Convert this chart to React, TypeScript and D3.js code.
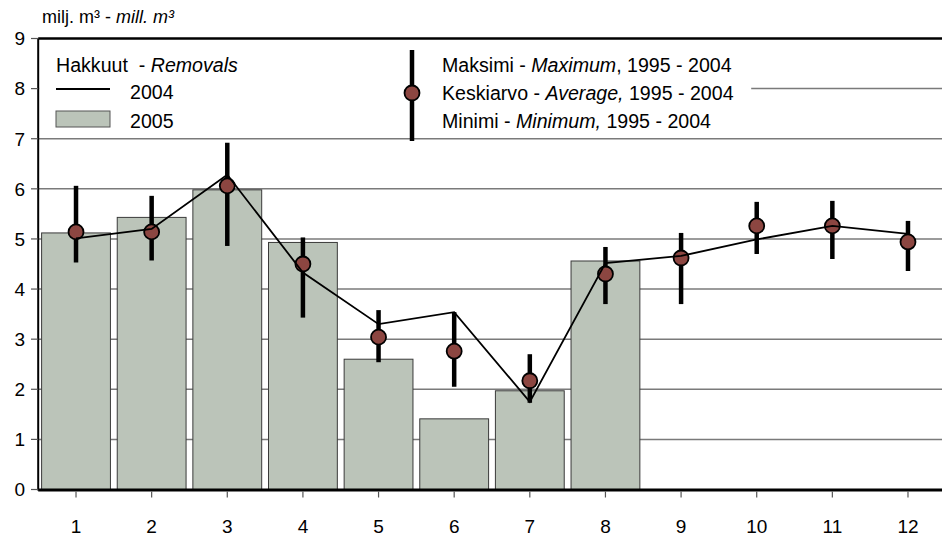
import React from "react";
import * as d3 from "d3";

const categories = ["1", "2", "3", "4", "5", "6", "7", "8", "9", "10", "11", "12"];
const removals2004 = [5.01, 5.2, 6.28, 4.33, 3.3, 3.54, 1.75, 4.52, 4.66, 4.99, 5.26, 5.1];
const removals2005: (number | null)[] = [5.12, 5.43, 5.98, 4.93, 2.6, 1.41, 1.97, 4.56, null, null, null, null];
const avg9504 = [5.14, 5.14, 6.06, 4.5, 3.04, 2.76, 2.17, 4.3, 4.62, 5.26, 5.26, 4.94];
const max9504 = [6.06, 5.86, 6.92, 5.03, 3.58, 3.54, 2.7, 4.84, 5.12, 5.74, 5.76, 5.36];
const min9504 = [4.53, 4.57, 4.86, 3.43, 2.54, 2.05, 1.73, 3.7, 3.7, 4.7, 4.6, 4.36];
const yTicks = [0, 1, 2, 3, 4, 5, 6, 7, 8, 9];

const W = 942;
const H = 540;
const FONT = "'Liberation Sans', Arial, sans-serif";
const BAR_FILL = "#bbc4b9";
const MARK_FILL = "#8c4641";
const LEG_FS = 19.6;

export default function App() {
  const x = d3.scaleBand<string>().domain(categories).range([38.2, 945.8]).paddingInner(0.09).paddingOuter(0.045);
  const y = d3.scaleLinear().domain([0, 9]).range([489.5, 38.5]);
  const cx = (c: string) => (x(c) as number) + x.bandwidth() / 2;
  const line = d3
    .line<number>()
    .x((_, i) => cx(categories[i]))
    .y((d) => y(d));
  const left = 38.2;
  const right = 946;

  return (
    <svg width={W} height={H} style={{ position: "absolute", left: 0, top: 0, background: "#fff" }} fontFamily={FONT}>
      <rect x={0} y={0} width={W} height={H} fill="#fff" />
      {/* gridlines */}
      {yTicks.filter((t) => t > 0 && t < 9).map((t) => (
        <line key={"g" + t} x1={left} x2={right} y1={y(t)} y2={y(t)} stroke="#7a7a7a" strokeWidth={1.5} />
      ))}
      {/* legend background hides gridline */}
      <rect x={left + 1} y={42} width={712} height={90} fill="#fff" />
      {/* bars */}
      {removals2005.map((v, i) =>
        v == null ? null : (
          <rect
            key={"b" + i}
            x={x(categories[i])}
            y={y(v)}
            width={x.bandwidth()}
            height={y(0) - y(v)}
            fill={BAR_FILL}
            stroke="#3a3a3a"
            strokeWidth={1}
          />
        )
      )}
      {/* whiskers */}
      {categories.map((c, i) => (
        <line key={"w" + i} x1={cx(c)} x2={cx(c)} y1={y(max9504[i])} y2={y(min9504[i])} stroke="#000" strokeWidth={4.5} />
      ))}
      {/* markers */}
      {categories.map((c, i) => (
        <circle key={"m" + i} cx={cx(c)} cy={y(avg9504[i])} r={7.5} fill={MARK_FILL} stroke="#000" strokeWidth={1.8} />
      ))}
      {/* 2004 line */}
      <path d={line(removals2004) || ""} fill="none" stroke="#000" strokeWidth={1.8} />
      {/* axes */}
      <line x1={left} x2={right} y1={y(9)} y2={y(9)} stroke="#000" strokeWidth={2.5} />
      <line x1={left} x2={right} y1={y(0) + 0.5} y2={y(0) + 0.5} stroke="#000" strokeWidth={3} />
      <line x1={left} x2={left} y1={y(9)} y2={y(0) + 1} stroke="#000" strokeWidth={2} />
      {yTicks.map((t) => (
        <g key={"yt" + t}>
          <line x1={31} x2={left} y1={y(t)} y2={y(t)} stroke="#555" strokeWidth={1.2} />
          <text x={25} y={y(t)} dy="0.36em" textAnchor="end" fontSize={19} fill="#000">
            {t}
          </text>
        </g>
      ))}
      {categories.map((c) => (
        <g key={"xt" + c}>
          <line x1={cx(c)} x2={cx(c)} y1={y(0) + 2} y2={y(0) + 8} stroke="#555" strokeWidth={1.2} />
          <text x={cx(c)} y={533} textAnchor="middle" fontSize={19} fill="#000">
            {c}
          </text>
        </g>
      ))}
      {/* title */}
      <text x={42} y={23} fontSize={18} fill="#000">
        milj. m³ - <tspan fontStyle="italic">mill. m³</tspan>
      </text>
      {/* left legend */}
      <text x={56} y={72} fontSize={LEG_FS} fill="#000" xmlSpace="preserve">
        Hakkuut  - <tspan fontStyle="italic">Removals</tspan>
      </text>
      <line x1={56} x2={110} y1={89} y2={89} stroke="#000" strokeWidth={1.8} />
      <text x={130} y={99} fontSize={LEG_FS} fill="#000">2004</text>
      <rect x={56} y={111} width={54} height={16} fill={BAR_FILL} stroke="#555" strokeWidth={1} />
      <text x={130} y={128} fontSize={LEG_FS} fill="#000">2005</text>
      {/* right legend */}
      <line x1={412} x2={412} y1={50} y2={141} stroke="#000" strokeWidth={4.5} />
      <circle cx={412} cy={93} r={7.5} fill={MARK_FILL} stroke="#000" strokeWidth={1.8} />
      <text x={442} y={72} fontSize={LEG_FS} fill="#000">
        Maksimi - <tspan fontStyle="italic">Maximum</tspan>, 1995 - 2004
      </text>
      <text x={442} y={100} fontSize={LEG_FS} fill="#000">
        Keskiarvo - <tspan fontStyle="italic">Average,</tspan> 1995 - 2004
      </text>
      <text x={442} y={128} fontSize={LEG_FS} fill="#000">
        Minimi - <tspan fontStyle="italic">Minimum,</tspan> 1995 - 2004
      </text>
    </svg>
  );
}
